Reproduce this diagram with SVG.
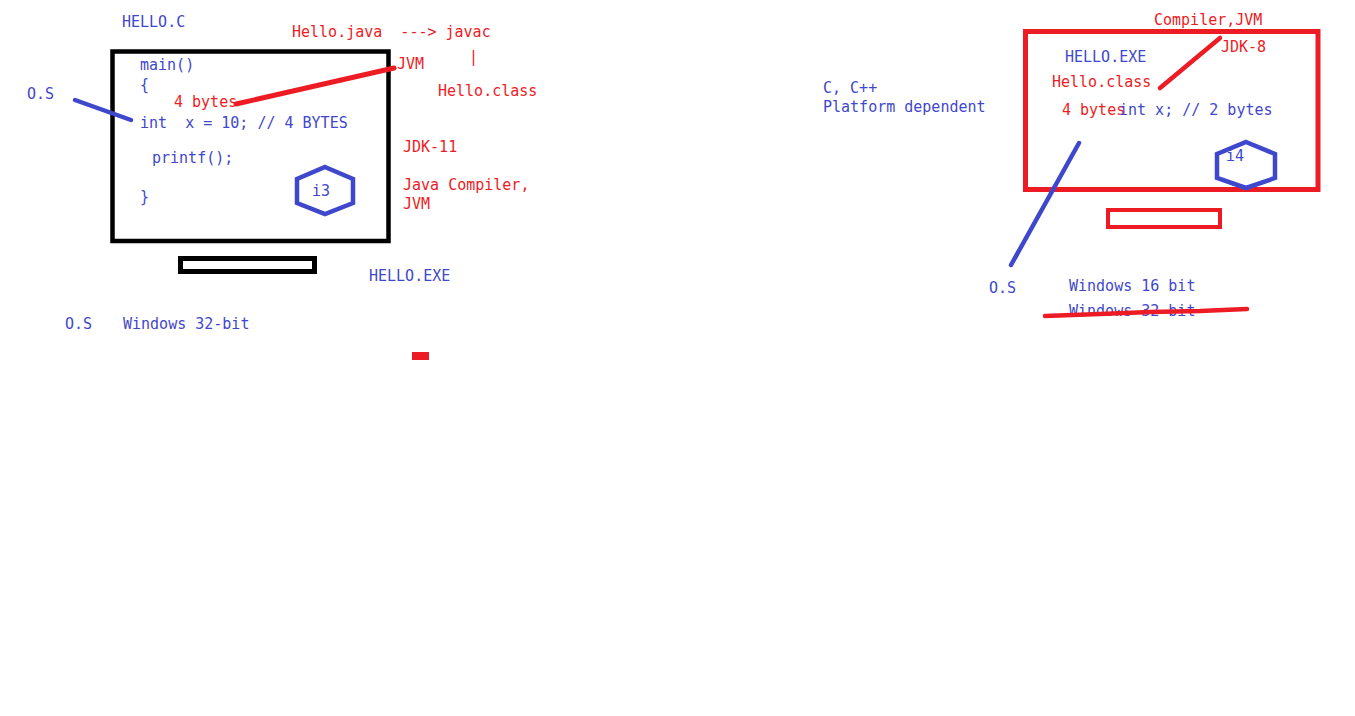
<svg xmlns="http://www.w3.org/2000/svg" width="1355" height="716" viewBox="0 0 1355 716">
<style>
text{font-family:"DejaVu Sans Mono","Liberation Mono",monospace;font-size:15px;white-space:pre}
.b{fill:#3f48cc}
.r{fill:#ed1c24}
.hex{fill:none;stroke:#3f48cc;stroke-width:4.5;stroke-linejoin:miter}
</style>
<rect width="1355" height="716" fill="#fff"/>
<g id="left-monitor">
<rect x="112.5" y="51.5" width="276" height="189.5" fill="none" stroke="#000" stroke-width="4.5"/>
<rect x="180.5" y="258.5" width="134" height="13" fill="none" stroke="#000" stroke-width="5"/>
</g>
<g id="left-code">
<text class="b" x="140" y="70">main()</text>
<text class="b" x="140" y="90">{</text>
<text class="r" x="174" y="107">4 bytes</text>
<text class="b" x="140" y="128" xml:space="preserve">int  x = 10; // 4 BYTES</text>
<text class="b" x="152" y="163">printf();</text>
<text class="b" x="140" y="202">}</text>
</g>
<g id="i3">
<polygon class="hex" points="325,167 353,179 353,203 325,214 297,203 297,179"/>
<text class="b" x="312" y="196">i3</text>
</g>
<g id="left-labels">
<text class="b" x="122" y="27">HELLO.C</text>
<text class="r" x="292" y="37" xml:space="preserve">Hello.java  ---&gt; javac</text>
<text class="r" x="469" y="62">|</text>
<text class="r" x="397" y="69">JVM</text>
<text class="r" x="438" y="96">Hello.class</text>
<text class="r" x="403" y="152">JDK-11</text>
<text class="r" x="403" y="190">Java Compiler,</text>
<text class="r" x="403" y="209">JVM</text>
<text class="b" x="369" y="281">HELLO.EXE</text>
<text class="b" x="27" y="99">O.S</text>
<text class="b" x="65" y="329">O.S</text>
<text class="b" x="123" y="329">Windows 32-bit</text>
</g>
<rect id="red-mark" x="412" y="352" width="17" height="8" fill="#ed1c24"/>
<g id="right-monitor">
<rect x="1025.5" y="31.5" width="292.5" height="158" fill="none" stroke="#ed1c24" stroke-width="5"/>
<rect x="1108" y="210" width="112" height="17" fill="none" stroke="#ed1c24" stroke-width="4"/>
</g>
<g id="right-code">
<text class="b" x="1065" y="62">HELLO.EXE</text>
<text class="r" x="1052" y="87">Hello.class</text>
<text class="r" x="1062" y="115">4 bytes</text>
<text class="b" x="1119" y="115">int x; // 2 bytes</text>
</g>
<g id="i4">
<polygon class="hex" points="1246,142 1275,154 1275,178 1246,188 1217,178 1217,154"/>
<text class="b" x="1226" y="161">i4</text>
</g>
<g id="right-labels">
<text class="r" x="1154" y="25">Compiler,JVM</text>
<text class="r" x="1221" y="52">JDK-8</text>
<text class="b" x="823" y="93">C, C++</text>
<text class="b" x="823" y="112">Platform dependent</text>
<text class="b" x="989" y="293">O.S</text>
<text class="b" x="1069" y="291">Windows 16 bit</text>
<text class="b" x="1069" y="316">Windows 32 bit</text>
</g>
<g id="connectors" stroke-linecap="round" fill="none">
<line x1="75" y1="100" x2="131" y2="120" stroke="#3f48cc" stroke-width="4.5"/>
<line x1="236" y1="104" x2="394" y2="68" stroke="#ed1c24" stroke-width="5"/>
<line x1="1160" y1="88" x2="1220" y2="38" stroke="#ed1c24" stroke-width="4.5"/>
<line x1="1079" y1="143" x2="1011" y2="265" stroke="#3f48cc" stroke-width="4.5"/>
<polyline points="1045,316 1100,314 1150,312 1200,311 1247,309" stroke="#ed1c24" stroke-width="4.5"/>
</g>
</svg>
